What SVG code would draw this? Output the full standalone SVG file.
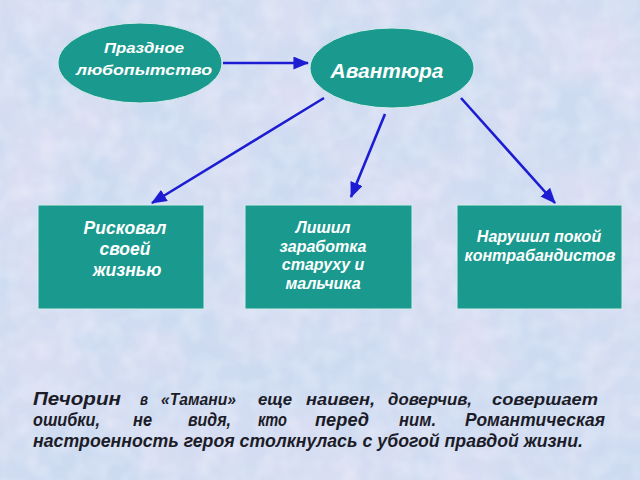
<svg xmlns="http://www.w3.org/2000/svg" width="640" height="480" viewBox="0 0 640 480">
<style>
.node{fill:#1a9a8e;stroke:#d6ecea;stroke-width:1}
.nt{font-family:"Liberation Sans",Arial,sans-serif;font-weight:bold;font-style:italic;fill:#ffffff;text-anchor:middle}
.bt{font-family:"Liberation Sans",Arial,sans-serif;font-weight:bold;font-style:italic;fill:#1c1c28;font-size:17.5px}
.l1{font-size:16px}
.conn{stroke:#1c1cd2;stroke-width:2.6;fill:none;marker-end:url(#ah)}
</style>
<defs>
<marker id="ah" markerWidth="6" markerHeight="5" refX="5.6" refY="2.5" orient="auto" markerUnits="strokeWidth">
<path d="M0,0 L6,2.5 L0,5 Z" fill="#1c1cd2"/>
</marker>
<filter id="tex" x="0" y="0" width="100%" height="100%">
<feTurbulence type="fractalNoise" baseFrequency="0.012" numOctaves="3" seed="7"/>
<feColorMatrix type="matrix" values="0 0 0 0 0.93  0 0 0 0 0.78  0 0 0 0 0.92  1.4 0 0 0 -0.5"/>
</filter>
<filter id="tex2" x="0" y="0" width="100%" height="100%">
<feTurbulence type="fractalNoise" baseFrequency="0.05" numOctaves="2" seed="3"/>
<feColorMatrix type="matrix" values="0 0 0 0 0.95  0 0 0 0 0.97  0 0 0 0 1  0 0 1.2 0 -0.45"/>
</filter>
</defs>
<rect width="640" height="480" fill="#cddbf1"/>
<rect width="640" height="480" filter="url(#tex)" opacity="0.6"/>
<rect width="640" height="480" filter="url(#tex2)" opacity="0.5"/>

<g id="connectors">
<line class="conn" x1="223" y1="63" x2="308" y2="63"/>
<line class="conn" x1="324" y1="98" x2="152" y2="203"/>
<line class="conn" x1="385" y1="114" x2="351" y2="197"/>
<line class="conn" x1="461" y1="98" x2="555" y2="203"/>
</g>

<g id="node-curiosity">
<ellipse class="node" cx="140" cy="63" rx="82" ry="40"/>
<text class="nt" x="144" y="53" font-size="15.5" textLength="80" lengthAdjust="spacingAndGlyphs">Праздное</text>
<text class="nt" x="144" y="75" font-size="15.5" textLength="136" lengthAdjust="spacingAndGlyphs">любопытство</text>
</g>

<g id="node-adventure">
<ellipse class="node" cx="392" cy="68" rx="82" ry="40"/>
<text class="nt" x="387" y="78" font-size="21" textLength="113" lengthAdjust="spacingAndGlyphs">Авантюра</text>
</g>

<g id="node-risk">
<rect class="node" x="38" y="205" width="166" height="104"/>
<text class="nt" x="125" y="234" font-size="17.5">Рисковал</text>
<text class="nt" x="125" y="255" font-size="17.5">своей</text>
<text class="nt" x="127" y="276" font-size="17.5">жизнью</text>
</g>

<g id="node-deprived">
<rect class="node" x="245" y="205" width="167" height="104"/>
<text class="nt" x="323" y="233" font-size="16">Лишил</text>
<text class="nt" x="323" y="252" font-size="16">заработка</text>
<text class="nt" x="323" y="270" font-size="16">старуху и</text>
<text class="nt" x="323" y="289" font-size="16">мальчика</text>
</g>

<g id="node-disturbed">
<rect class="node" x="457" y="205" width="165" height="104"/>
<text class="nt" x="539" y="242" font-size="16">Нарушил покой</text>
<text class="nt" x="540" y="261" font-size="16">контрабандистов</text>
</g>

<g id="caption">
<text class="bt" x="33" y="405" font-size="20" textLength="88" lengthAdjust="spacingAndGlyphs">Печорин</text>
<text class="bt l1" x="140" y="405" textLength="8" lengthAdjust="spacingAndGlyphs">в</text>
<text class="bt l1" x="161" y="405" textLength="75" lengthAdjust="spacingAndGlyphs">«Тамани»</text>
<text class="bt l1" x="258" y="405" textLength="34" lengthAdjust="spacingAndGlyphs">еще</text>
<text class="bt l1" x="306" y="405" textLength="69" lengthAdjust="spacingAndGlyphs">наивен,</text>
<text class="bt l1" x="388" y="405" textLength="84" lengthAdjust="spacingAndGlyphs">доверчив,</text>
<text class="bt l1" x="492" y="405" textLength="106" lengthAdjust="spacingAndGlyphs">совершает</text>
<text class="bt" x="33" y="426" textLength="67" lengthAdjust="spacingAndGlyphs">ошибки,</text>
<text class="bt" x="133" y="426" textLength="19" lengthAdjust="spacingAndGlyphs">не</text>
<text class="bt" x="188" y="426" textLength="43" lengthAdjust="spacingAndGlyphs">видя,</text>
<text class="bt" x="258" y="426" textLength="29" lengthAdjust="spacingAndGlyphs">кто</text>
<text class="bt" x="315" y="426" textLength="54" lengthAdjust="spacingAndGlyphs">перед</text>
<text class="bt" x="399" y="426" textLength="37" lengthAdjust="spacingAndGlyphs">ним.</text>
<text class="bt" x="465" y="426" textLength="140" lengthAdjust="spacingAndGlyphs">Романтическая</text>
<text class="bt" x="33" y="447" textLength="550" lengthAdjust="spacingAndGlyphs">настроенность героя столкнулась с убогой правдой жизни.</text>
</g>
</svg>
